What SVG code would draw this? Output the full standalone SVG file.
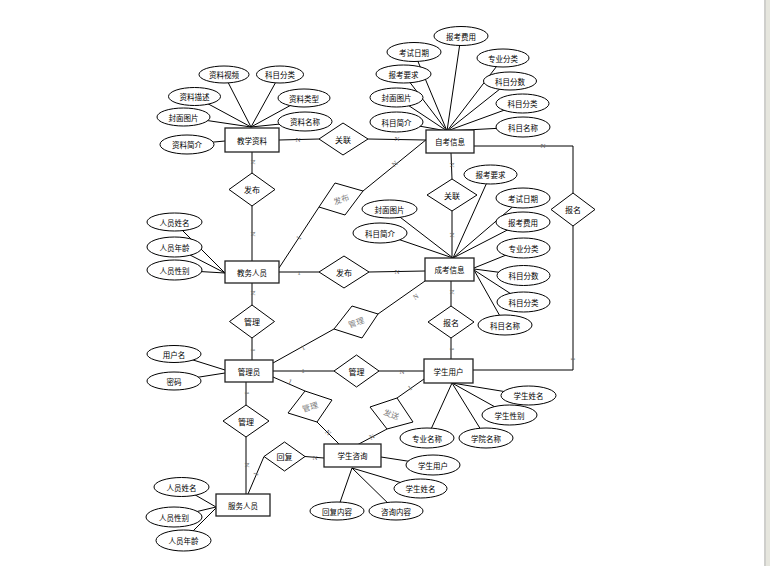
<svg xmlns="http://www.w3.org/2000/svg" width="770" height="566" viewBox="0 0 770 566">
<style>
.e{fill:#fff;stroke:#000;stroke-width:1}
.r{fill:#fff;stroke:#222;stroke-width:1.3}
.d{fill:#fff;stroke:#000;stroke-width:1}
.l{stroke:#000;stroke-width:1;fill:none}
.t{font-family:"Noto Sans CJK SC","Noto Sans",sans-serif;font-size:7.5px;fill:#000;text-anchor:middle;dominant-baseline:central}
.dt{font-family:"Noto Sans CJK SC","Noto Sans",sans-serif;font-size:8px;fill:#000;text-anchor:middle;dominant-baseline:central}
.gt{font-family:"Noto Sans CJK SC","Noto Sans",sans-serif;font-size:8px;fill:#808080;text-anchor:middle;dominant-baseline:central}
.c{font-family:"Liberation Serif",serif;font-size:7px;fill:#666;text-anchor:middle;dominant-baseline:central}
</style>
<rect x="0" y="0" width="770" height="566" fill="#fff"/>
<rect x="764" y="0" width="2" height="566" fill="#cfcfcc"/>
<rect x="766" y="0" width="4" height="566" fill="#e6e6de"/>

<g id="connectors">
<!-- attribute lines -->
<path class="l" d="M224,74.5L251,127M280,74.5L251,127M194.5,96.5L251,127M304,98L251,127M183.5,117L251,127M305,121.5L251,127M187,144.5L225,141"/>
<path class="l" d="M461,36L447,131M414,52L447,131M503,58L447,131M403.5,74L447,131M510,81L447,131M396.5,97.5L447,131M522.5,103.5L447,131M396.5,122L447,131M523,127L447,131"/>
<path class="l" d="M490.5,174.5L453,258M523,198L453,258M389.5,209L453,258M523,222L453,258M380,233L453,258M523.5,248L474,268M523.5,275.5L474,269M523.5,302L474,270M505,325L474,270"/>
<path class="l" d="M174.5,222.5L225,273M174.5,247L225,273M174.5,270L225,273"/>
<path class="l" d="M174,354L225,370M174,381L225,373"/>
<path class="l" d="M181.5,487L216,507M174,517L216,507M183.5,540.5L216,508"/>
<path class="l" d="M528.5,395.5L452,383M509.5,415L452,383M427,438L452,383M486,438L452,383"/>
<path class="l" d="M381,457L433,465M420.5,488.5L352,468M337,511L352,468M396,511L352,468"/>
<!-- relationship lines -->
<path class="l" d="M279,140L319,139M368,139L426,140"/>
<path class="l" d="M474,146L573,146L573,193M573,226L573,370L473,370"/>
<path class="l" d="M252,152L252,173M252,206L252,261"/>
<path class="l" d="M279,268L319,207M363,191L427,139"/>
<path class="l" d="M451,153L452,179M452,211L452,258"/>
<path class="l" d="M279,272L319,272M369,272L425,271"/>
<path class="l" d="M451,281L451,306M451,338L451,359"/>
<path class="l" d="M425,281L378,314M334,329L273,363"/>
<path class="l" d="M252,283L252,305M252,338L252,360"/>
<path class="l" d="M273,371L334,371M379,371L424,371"/>
<path class="l" d="M273,377L305,391M317,422L340,445"/>
<path class="l" d="M424,379L397,398M387,429L357,445"/>
<path class="l" d="M246,382L246,405M246,437L246,494"/>
<path class="l" d="M248,494L264,456.5M305,456.5L324,458"/>
<!-- cardinality labels -->
<text class="c" x="298" y="140">N</text>
<text class="c" x="397" y="139">N</text>
<text class="c" x="543" y="146">N</text>
<text class="c" transform="translate(573,359) rotate(90)">1</text>
<text class="c" transform="translate(253,162) rotate(90)">N</text>
<text class="c" transform="translate(253,234) rotate(90)">N</text>
<text class="c" transform="translate(299,238) rotate(-57)">1</text>
<text class="c" transform="translate(395,164) rotate(-39)">N</text>
<text class="c" transform="translate(452,165) rotate(90)">N</text>
<text class="c" transform="translate(452,235) rotate(90)">N</text>
<text class="c" x="299" y="273">1</text>
<text class="c" x="397" y="272">N</text>
<text class="c" transform="translate(452,292) rotate(90)">N</text>
<text class="c" transform="translate(452,349) rotate(90)">1</text>
<text class="c" transform="translate(416,297) rotate(-35)">N</text>
<text class="c" transform="translate(303,348) rotate(-29)">1</text>
<text class="c" transform="translate(253,293) rotate(90)">N</text>
<text class="c" transform="translate(253,350) rotate(90)">1</text>
<text class="c" x="303" y="371">1</text>
<text class="c" x="402" y="372">N</text>
<text class="c" transform="translate(290,382) rotate(24)">1</text>
<text class="c" transform="translate(328,433) rotate(45)">N</text>
<text class="c" transform="translate(410,388) rotate(-35)">1</text>
<text class="c" transform="translate(372,437) rotate(-28)">N</text>
<text class="c" transform="translate(247,393) rotate(90)">1</text>
<text class="c" transform="translate(247,465) rotate(90)">N</text>
<text class="c" transform="translate(256,474) rotate(-67)">1</text>
<text class="c" x="315" y="458">N</text>
</g>

<g id="n-jiaoxueziliao"><rect class="r" x="225" y="128" width="54" height="24"/><text class="t" x="252" y="140">教学资料</text></g>
<g id="n-zikaoxinxi"><rect class="r" x="426" y="130" width="48" height="23"/><text class="t" x="450" y="141.5">自考信息</text></g>
<g id="n-jiaowurenyuan"><rect class="r" x="225" y="261" width="54" height="22"/><text class="t" x="252" y="272">教务人员</text></g>
<g id="n-chengkaoxinxi"><rect class="r" x="425" y="258" width="49" height="23"/><text class="t" x="449.5" y="269.5">成考信息</text></g>
<g id="n-guanliyuan"><rect class="r" x="225" y="360" width="48" height="22"/><text class="t" x="249" y="371">管理员</text></g>
<g id="n-xueshengyonghu"><rect class="r" x="424" y="359" width="49" height="24"/><text class="t" x="448.5" y="371">学生用户</text></g>
<g id="n-fuwurenyuan"><rect class="r" x="216" y="494" width="54" height="22"/><text class="t" x="243" y="505">服务人员</text></g>
<g id="n-xueshengzixun"><rect class="r" x="324" y="444" width="57" height="23"/><text class="t" x="352.5" y="455.5">学生咨询</text></g>

<g id="r-guanlian1"><polygon class="d" points="319,139 343,123 368,139 343,155"/><text class="dt" x="343" y="139">关联</text></g>
<g id="r-fabu1"><polygon class="d" points="229,189.5 252,173 275,189.5 252,206"/><text class="dt" x="252" y="189.5">发布</text></g>
<g id="r-fabu-rot"><polygon class="d" points="319,207 335,183 363,191 345,215"/><text class="gt" transform="translate(341,199) rotate(-20)">发布</text></g>
<g id="r-guanlian2"><polygon class="d" points="427,195 452,179 477,195 452,211"/><text class="dt" x="452" y="195">关联</text></g>
<g id="r-fabu2"><polygon class="d" points="319,272 344,256 369,272 344,288"/><text class="dt" x="344" y="272">发布</text></g>
<g id="r-baoming1"><polygon class="d" points="551,209.5 573,193 595,209.5 573,226"/><text class="dt" x="573" y="209.5">报名</text></g>
<g id="r-baoming2"><polygon class="d" points="428,322 451,306 474,322 451,338"/><text class="dt" x="451" y="322">报名</text></g>
<g id="r-guanli1"><polygon class="d" points="229.5,321.5 252,305 274.5,321.5 252,338"/><text class="dt" x="252" y="321.5">管理</text></g>
<g id="r-guanli-rot1"><polygon class="d" points="334,329 352,306 378,314 362,338"/><text class="gt" transform="translate(356,322) rotate(-19)">管理</text></g>
<g id="r-guanli-mid"><polygon class="d" points="334,371 356.5,355 379,371 356.5,387"/><text class="dt" x="356.5" y="371">管理</text></g>
<g id="r-guanli-rot2"><polygon class="d" points="288,413 305,391 332,400 317,422"/><text class="gt" transform="translate(310,406.5) rotate(-17)">管理</text></g>
<g id="r-fasong"><polygon class="d" points="370,407 397,398 413,422 387,429"/><text class="gt" transform="translate(391.5,414) rotate(19)">发送</text></g>
<g id="r-guanli-low"><polygon class="d" points="223,421 246,405 269,421 246,437"/><text class="dt" x="246" y="421">管理</text></g>
<g id="r-huifu"><polygon class="d" points="264,456.5 284.5,442 305,456.5 284.5,471"/><text class="dt" x="284.5" y="456.5">回复</text></g>

<g id="a-jx-ziliaoshipin"><ellipse class="e" cx="224" cy="74.5" rx="25" ry="8.5"/><text class="t" x="224" y="74.5">资料视频</text></g>
<g id="a-jx-kemufenlei"><ellipse class="e" cx="280" cy="74.5" rx="23.5" ry="8.5"/><text class="t" x="280" y="74.5">科目分类</text></g>
<g id="a-jx-ziliaomiaoshu"><ellipse class="e" cx="194.5" cy="96.5" rx="26" ry="9"/><text class="t" x="194.5" y="96.5">资料描述</text></g>
<g id="a-jx-ziliaoleixing"><ellipse class="e" cx="304" cy="98" rx="26" ry="9"/><text class="t" x="304" y="98">资料类型</text></g>
<g id="a-jx-fengmiantupian"><ellipse class="e" cx="183.5" cy="117" rx="26.5" ry="9"/><text class="t" x="183.5" y="117">封面图片</text></g>
<g id="a-jx-ziliaomingcheng"><ellipse class="e" cx="305" cy="121.5" rx="27" ry="9.5"/><text class="t" x="305" y="121.5">资料名称</text></g>
<g id="a-jx-ziliaojianjie"><ellipse class="e" cx="187" cy="144.5" rx="27" ry="9.5"/><text class="t" x="187" y="144.5">资料简介</text></g>

<g id="a-zk-baokaofeiyong"><ellipse class="e" cx="461" cy="36" rx="27" ry="9.5"/><text class="t" x="461" y="36">报考费用</text></g>
<g id="a-zk-kaoshiriqi"><ellipse class="e" cx="414" cy="52" rx="27" ry="9.5"/><text class="t" x="414" y="52">考试日期</text></g>
<g id="a-zk-zhuanyefenlei"><ellipse class="e" cx="503" cy="58" rx="26" ry="9"/><text class="t" x="503" y="58">专业分类</text></g>
<g id="a-zk-baokaoyaoqiu"><ellipse class="e" cx="403.5" cy="74" rx="27.5" ry="9"/><text class="t" x="403.5" y="74">报考要求</text></g>
<g id="a-zk-kemufenshu"><ellipse class="e" cx="510" cy="81" rx="26.5" ry="9"/><text class="t" x="510" y="81">科目分数</text></g>
<g id="a-zk-fengmiantupian"><ellipse class="e" cx="396.5" cy="97.5" rx="26.5" ry="9.5"/><text class="t" x="396.5" y="97.5">封面图片</text></g>
<g id="a-zk-kemufenlei"><ellipse class="e" cx="522.5" cy="103.5" rx="26.5" ry="9.5"/><text class="t" x="522.5" y="103.5">科目分类</text></g>
<g id="a-zk-kemujianjie"><ellipse class="e" cx="396.5" cy="122" rx="26.5" ry="10"/><text class="t" x="396.5" y="122">科目简介</text></g>
<g id="a-zk-kemumingcheng"><ellipse class="e" cx="523" cy="127" rx="27" ry="10"/><text class="t" x="523" y="127">科目名称</text></g>

<g id="a-ck-baokaoyaoqiu"><ellipse class="e" cx="490.5" cy="174.5" rx="26.5" ry="9.5"/><text class="t" x="490.5" y="174.5">报考要求</text></g>
<g id="a-ck-kaoshiriqi"><ellipse class="e" cx="523" cy="198" rx="27" ry="10"/><text class="t" x="523" y="198">考试日期</text></g>
<g id="a-ck-fengmiantupian"><ellipse class="e" cx="389.5" cy="209" rx="27.5" ry="9"/><text class="t" x="389.5" y="209">封面图片</text></g>
<g id="a-ck-baokaofeiyong"><ellipse class="e" cx="523" cy="222" rx="27" ry="10"/><text class="t" x="523" y="222">报考费用</text></g>
<g id="a-ck-kemujianjie"><ellipse class="e" cx="380" cy="233" rx="27" ry="10"/><text class="t" x="380" y="233">科目简介</text></g>
<g id="a-ck-zhuanyefenlei"><ellipse class="e" cx="523.5" cy="248" rx="26.5" ry="10"/><text class="t" x="523.5" y="248">专业分类</text></g>
<g id="a-ck-kemufenshu"><ellipse class="e" cx="523.5" cy="275.5" rx="26.5" ry="10"/><text class="t" x="523.5" y="275.5">科目分数</text></g>
<g id="a-ck-kemufenlei"><ellipse class="e" cx="523.5" cy="302" rx="26.5" ry="10"/><text class="t" x="523.5" y="302">科目分类</text></g>
<g id="a-ck-kemumingcheng"><ellipse class="e" cx="505" cy="325" rx="27" ry="10"/><text class="t" x="505" y="325">科目名称</text></g>

<g id="a-jw-renyuanxingming"><ellipse class="e" cx="174.5" cy="222" rx="27.5" ry="9"/><text class="t" x="174.5" y="222">人员姓名</text></g>
<g id="a-jw-renyuannianling"><ellipse class="e" cx="174.5" cy="247" rx="27.5" ry="10"/><text class="t" x="174.5" y="247">人员年龄</text></g>
<g id="a-jw-renyuanxingbie"><ellipse class="e" cx="174.5" cy="270" rx="27.5" ry="10"/><text class="t" x="174.5" y="270">人员性别</text></g>

<g id="a-gl-yonghuming"><ellipse class="e" cx="174" cy="354" rx="27" ry="8.5"/><text class="t" x="174" y="354">用户名</text></g>
<g id="a-gl-mima"><ellipse class="e" cx="174" cy="381" rx="27" ry="9"/><text class="t" x="174" y="381">密码</text></g>

<g id="a-fw-renyuanxingming"><ellipse class="e" cx="181.5" cy="487" rx="27.5" ry="9.5"/><text class="t" x="181.5" y="487">人员姓名</text></g>
<g id="a-fw-renyuanxingbie"><ellipse class="e" cx="174" cy="517" rx="28" ry="10"/><text class="t" x="174" y="517">人员性别</text></g>
<g id="a-fw-renyuannianling"><ellipse class="e" cx="183.5" cy="540.5" rx="27.5" ry="10.5"/><text class="t" x="183.5" y="540.5">人员年龄</text></g>

<g id="a-xs-xueshengxingming"><ellipse class="e" cx="528.5" cy="395.5" rx="27.5" ry="9.5"/><text class="t" x="528.5" y="395.5">学生姓名</text></g>
<g id="a-xs-xueshengxingbie"><ellipse class="e" cx="509.5" cy="415" rx="27.5" ry="10"/><text class="t" x="509.5" y="415">学生性别</text></g>
<g id="a-xs-zhuanyemingcheng"><ellipse class="e" cx="427" cy="438" rx="27" ry="10"/><text class="t" x="427" y="438">专业名称</text></g>
<g id="a-xs-xueyuanmingcheng"><ellipse class="e" cx="486" cy="438" rx="27" ry="10"/><text class="t" x="486" y="438">学院名称</text></g>

<g id="a-zx-xueshengyonghu"><ellipse class="e" cx="433" cy="465" rx="27" ry="10"/><text class="t" x="433" y="465">学生用户</text></g>
<g id="a-zx-xueshengxingming"><ellipse class="e" cx="420.5" cy="488.5" rx="26.5" ry="9.5"/><text class="t" x="420.5" y="488.5">学生姓名</text></g>
<g id="a-zx-huifuneirong"><ellipse class="e" cx="337" cy="511" rx="27" ry="9"/><text class="t" x="337" y="511">回复内容</text></g>
<g id="a-zx-zixunneirong"><ellipse class="e" cx="396" cy="511" rx="27" ry="9"/><text class="t" x="396" y="511">咨询内容</text></g>
</svg>
